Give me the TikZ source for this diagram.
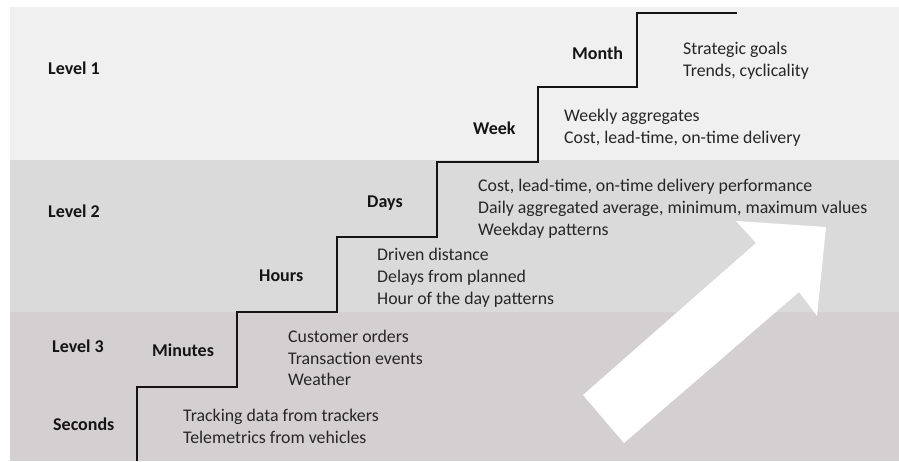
\documentclass[tikz,border=0pt]{standalone}
\usepackage{fontspec}
\setmainfont{Carlito}
\begin{document}
\begin{tikzpicture}[x=1pt,y=-1pt,
  band/.style={draw=none},
  lvl/.style={anchor=west,inner sep=0pt,font=\fontsize{18}{21}\selectfont\bfseries,text=black!92},
  info/.style={anchor=west,inner sep=0pt,align=left,font=\fontsize{17.8}{21.8}\selectfont,text=black!85},
  stair/.style={line width=2.9pt,black!92,line join=miter},
  bigarrow/.style={fill=white,draw=none}]
\useasboundingbox (0,0) rectangle (899,461);
\fill[white] (0,0) rectangle (899,461);
% background bands for the three levels
\fill[band,fill={rgb,255:red,240;green,240;blue,240}] (10,7) rectangle (899,160);
\fill[band,fill={rgb,255:red,218;green,218;blue,218}] (10,160) rectangle (899,312);
\fill[band,fill={rgb,255:red,212;green,208;blue,209}] (10,312) rectangle (899,461);

% stair corners
\coordinate (s0) at (137,461);
\coordinate (s1) at (137,387);
\coordinate (s2) at (237,387);
\coordinate (s3) at (237,312);
\coordinate (s4) at (337,312);
\coordinate (s5) at (337,237);
\coordinate (s6) at (437,237);
\coordinate (s7) at (437,162);
\coordinate (s8) at (538,162);
\coordinate (s9) at (538,87);
\coordinate (s10) at (637,87);
\coordinate (s11) at (637,13);
\coordinate (s12) at (737,13);
\draw[stair] (s0) -- (s1) -- (s2) -- (s3) -- (s4) -- (s5) -- (s6) -- (s7) -- (s8) -- (s9) -- (s10) -- (s11) -- (s12);

% upward arrow
\fill[bigarrow] (583,395) -- (756,243) -- (736,221) -- (826,227) -- (817,316) -- (799,292) -- (624,443) -- cycle;

% level names
\node[lvl] (l1) at (48,68) {Level 1};
\node[lvl] (l2) at (48,211) {Level 2};
\node[lvl] (l3) at (52,346) {Level 3};

% time scales
\node[lvl] (sec) at (53,424) {Seconds};
\node[lvl] (min) at (152,350) {Minutes};
\node[lvl] (hrs) at (259,276) {Hours};
\node[lvl] (days) at (367,203) {Days};
\node[lvl] (week) at (473,128) {Week};
\node[lvl] (month) at (572,53) {Month};

% data at each scale
\node[info] (tmonth) at (683,61) {Strategic goals\\Trends, cyclicality};
\node[info] (tweek) at (564,128) {Weekly aggregates\\Cost, lead-time, on-time delivery};
\node[info] (tdays) at (478,209) {Cost, lead-time, on-time delivery performance\\Daily aggregated average, minimum, maximum values\\Weekday patterns};
\node[info] (thrs) at (377,278) {Driven distance\\Delays from planned\\Hour of the day patterns};
\node[info] (tmin) at (288,358) {Customer orders\\Transaction events\\Weather};
\node[info] (tsec) at (183,426) {Tracking data from trackers\\Telemetrics from vehicles};
\end{tikzpicture}
\end{document}
